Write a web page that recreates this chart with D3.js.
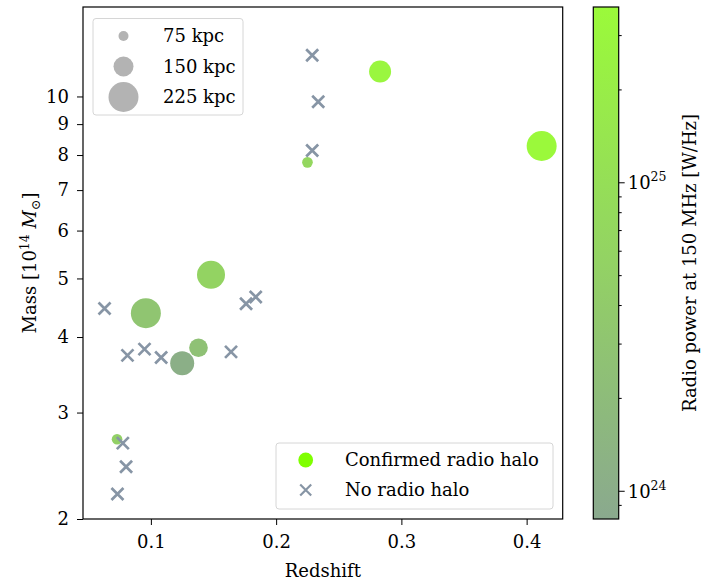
<!DOCTYPE html>
<html>
<head>
<meta charset="utf-8">
<script src="https://cdn.jsdelivr.net/npm/d3@7"></script>
<style>
  html, body { margin: 0; padding: 0; background: #fff; }
  svg { display: block; }
  text { font-family: "DejaVu Serif", serif; fill: #000; }
</style>
</head>
<body>
<svg id="chart" width="703" height="583"></svg>
<script>
// ---- data ----
const haloZ     = [0.073, 0.096, 0.125, 0.138, 0.148, 0.225, 0.283, 0.412];
const haloMass  = [2.71, 4.38, 3.62, 3.84, 5.07, 7.78, 11.0, 8.28];
const haloSize  = [80, 225, 180, 140, 210, 80, 165, 225];           // kpc
const haloPower = [5e24, 3e24, 1.1e24, 2.5e24, 6e24, 7e24, 3e25, 3.5e25]; // W/Hz

const noHaloZ    = [0.063, 0.0776, 0.0802, 0.0733, 0.0813, 0.0949, 0.1082, 0.164, 0.176, 0.1837, 0.2288, 0.2336, 0.2288];
const noHaloMass = [4.46, 2.67, 2.44, 2.20, 3.73, 3.82, 3.70, 3.78, 4.54, 4.66, 11.7, 9.80, 8.14];

const xTicks = [0.1, 0.2, 0.3, 0.4];
const yTicks = [2, 3, 4, 5, 6, 7, 8, 9, 10];
const sizeLegend = [75, 150, 225];
const cbMajor = [1e24, 1e25];
const cbMinor = [9e23, 2e24, 3e24, 4e24, 5e24, 6e24, 7e24, 8e24, 9e24, 2e25, 3e25];

// ---- layout ----
const svg = d3.select("#chart");
const L = 83, R = 562.7, T = 7, B = 519;
const x = d3.scaleLinear().domain([0.0458, 0.4288]).range([L, R]);
const y = d3.scaleLog().domain([2, 14.06]).range([B, T]);
const rad = d3.scaleLinear().domain([0, 225]).range([0, 15]);
const cLow = "#8aa98e", cHigh = "#9bfa3a";
const color = d3.scaleLog().domain([8.1e23, 3.7e25]).range([cLow, cHigh]).interpolate(d3.interpolateRgb);
const crossColor = "#8795a5";
const fs = 18, fsSup = 12.5;

// ---- axes ----
const gx = svg.append("g").attr("transform", `translate(0,${B})`)
  .call(d3.axisBottom(x).tickValues(xTicks).tickFormat(d3.format(".1f")).tickSizeOuter(0).tickSize(6).tickPadding(10));
const gy = svg.append("g").attr("transform", `translate(${L},0)`)
  .call(d3.axisLeft(y).tickValues(yTicks).tickFormat(d => d).tickSizeOuter(0).tickSize(6).tickPadding(8));
[gx, gy].forEach(g => {
  g.select(".domain").remove();
  g.selectAll("line").attr("stroke", "#000").attr("stroke-width", 1);
  g.selectAll("text").attr("font-size", fs).attr("font-family", "DejaVu Serif");
});

// ---- marks ----
const pts = haloZ.map((z, i) => ({z, m: haloMass[i], s: haloSize[i], p: haloPower[i]}));
svg.append("g").selectAll("circle").data(pts).join("circle")
  .attr("cx", d => x(d.z)).attr("cy", d => y(d.m)).attr("r", d => rad(d.s))
  .attr("fill", d => color(d.p));

function cross(g, cx, cy, h, w) {
  g.append("path").attr("d", `M${cx-h},${cy-h}L${cx+h},${cy+h}M${cx-h},${cy+h}L${cx+h},${cy-h}`)
    .attr("stroke", crossColor).attr("stroke-width", w).attr("fill", "none");
}
const gc = svg.append("g");
noHaloZ.forEach((z, i) => cross(gc, x(z), y(noHaloMass[i]), 6, 2.7));

// frame
svg.append("rect").attr("x", L).attr("y", T).attr("width", R - L).attr("height", B - T)
  .attr("fill", "none").attr("stroke", "#000").attr("stroke-width", 1.2);

// ---- size legend ----
const lg1 = svg.append("g");
lg1.append("rect").attr("x", 93).attr("y", 18.5).attr("width", 150).attr("height", 96.5)
  .attr("rx", 3).attr("fill", "#fff").attr("fill-opacity", 0.8).attr("stroke", "#d6d6d6").attr("stroke-width", 1);
sizeLegend.forEach((s, i) => {
  const cy = 36 + i * 30.5;
  lg1.append("circle").attr("cx", 123.5).attr("cy", cy).attr("r", rad(s)).attr("fill", "#b3b3b3");
  lg1.append("text").attr("x", 163).attr("y", cy + 6).attr("font-size", fs).text(`${s} kpc`);
});

// ---- type legend ----
const lg2 = svg.append("g");
lg2.append("rect").attr("x", 276).attr("y", 443).attr("width", 277).attr("height", 66)
  .attr("rx", 3).attr("fill", "#fff").attr("fill-opacity", 0.8).attr("stroke", "#d6d6d6").attr("stroke-width", 1);
lg2.append("circle").attr("cx", 305.7).attr("cy", 460).attr("r", 7.4).attr("fill", "#7fff00");
lg2.append("text").attr("x", 345).attr("y", 466).attr("font-size", fs).text("Confirmed radio halo");
cross(lg2, 305.7, 490, 5.5, 2.2);
lg2.append("text").attr("x", 345).attr("y", 496).attr("font-size", fs).text("No radio halo");

// ---- axis labels ----
svg.append("text").attr("x", (L + R) / 2).attr("y", 577).attr("text-anchor", "middle").attr("font-size", fs).text("Redshift");
const yl = svg.append("text").attr("transform", `translate(36,${(T + B) / 2}) rotate(-90)`)
  .attr("text-anchor", "middle").attr("font-size", fs);
yl.append("tspan").text("Mass [10");
yl.append("tspan").attr("font-size", fsSup).attr("dy", -7).text("14");
yl.append("tspan").attr("dy", 7).text(" ");
yl.append("tspan").attr("font-style", "italic").text("M");
yl.append("tspan").attr("font-size", fsSup).attr("dy", 3.5).text("⊙");
yl.append("tspan").attr("dy", -3.5).text("]");

// ---- colorbar ----
const cbL = 593.3, cbR = 618.7;
const cy = d3.scaleLog().domain(color.domain()).range([B, T]);
const defs = svg.append("defs");
const grad = defs.append("linearGradient").attr("id", "cbgrad").attr("x1", 0).attr("y1", 1).attr("x2", 0).attr("y2", 0);
d3.range(0, 1.0001, 0.1).forEach(t => grad.append("stop").attr("offset", t).attr("stop-color", d3.interpolateRgb(cLow, cHigh)(t)));
svg.append("rect").attr("x", cbL).attr("y", T).attr("width", cbR - cbL).attr("height", B - T)
  .attr("fill", "url(#cbgrad)").attr("stroke", "#000").attr("stroke-width", 1.2);
const gcb = svg.append("g").attr("transform", `translate(${cbR},0)`);
gcb.append("g").call(d3.axisRight(cy).tickValues(cbMinor).tickFormat("").tickSize(3).tickSizeOuter(0))
  .call(g => g.select(".domain").remove());
gcb.append("g").call(d3.axisRight(cy).tickValues(cbMajor).tickFormat("").tickSize(6).tickSizeOuter(0))
  .call(g => g.select(".domain").remove());
gcb.selectAll("line").attr("stroke", "#000");
cbMajor.forEach(v => {
  const t = svg.append("text").attr("x", cbR + 9).attr("y", cy(v) + 7).attr("font-size", fs);
  t.append("tspan").text("10");
  t.append("tspan").attr("font-size", fsSup).attr("dy", -8).text(Math.round(Math.log10(v)));
});
svg.append("text").attr("transform", `translate(696,${(T + B) / 2}) rotate(-90)`)
  .attr("text-anchor", "middle").attr("font-size", fs).text("Radio power at 150 MHz [W/Hz]");
</script>
</body>
</html>
